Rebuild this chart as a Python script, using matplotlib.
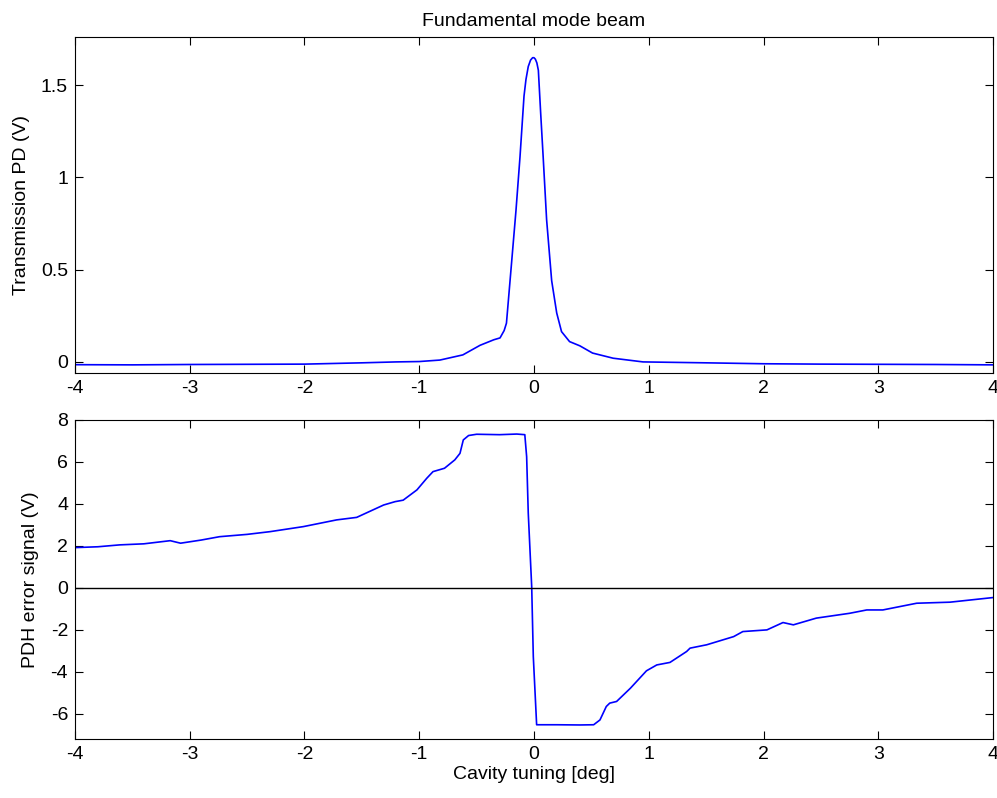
import matplotlib
matplotlib.use("Agg")
import matplotlib.pyplot as plt

plt.rcParams['font.family'] = ['Liberation Sans', 'DejaVu Sans']
plt.rcParams['axes.unicode_minus'] = False

# Transmission photodiode signal (top panel)
trans_x = [-4.0, -3.5, -3.0, -2.5, -2.0, -1.5, -1.2, -1.0, -0.82, -0.62, -0.47,
           -0.35, -0.296, -0.26, -0.24, -0.195, -0.157, -0.122, -0.087, -0.07,
           -0.05, -0.03, -0.012, 0.0, 0.012, 0.025, 0.038, 0.058, 0.08, 0.11,
           0.154, 0.198, 0.24, 0.31, 0.40, 0.51, 0.69, 0.95, 1.5, 2.0, 2.5,
           3.0, 3.5, 4.0]
trans_v = [-0.015, -0.016, -0.014, -0.013, -0.012, -0.005, 0.0, 0.002, 0.01,
           0.038, 0.09, 0.12, 0.13, 0.17, 0.21, 0.54, 0.82, 1.11, 1.44, 1.53,
           1.60, 1.635, 1.648, 1.648, 1.64, 1.62, 1.58, 1.35, 1.11, 0.77, 0.44,
           0.265, 0.164, 0.11, 0.087, 0.048, 0.02, 0.0, -0.005, -0.01, -0.012,
           -0.013, -0.014, -0.016]

# PDH error signal (bottom panel)
pdh_x = [-4.0, -3.8, -3.61, -3.4, -3.17, -3.08, -2.9, -2.74, -2.5, -2.30,
         -2.01, -1.72, -1.545, -1.31, -1.21, -1.14, -1.02, -0.935, -0.88,
         -0.78, -0.69, -0.645, -0.616, -0.57, -0.5, -0.3, -0.15, -0.08,
         -0.064, -0.05, -0.02, -0.006, 0.023, 0.2, 0.4, 0.52, 0.575, 0.63,
         0.66, 0.72, 0.84, 0.98, 1.07, 1.185, 1.33, 1.36, 1.505, 1.74, 1.82,
         2.03, 2.17, 2.26, 2.46, 2.75, 2.90, 3.04, 3.335, 3.625, 4.0]
pdh_v = [1.92, 1.96, 2.05, 2.1, 2.25, 2.13, 2.28, 2.44, 2.55, 2.68, 2.92,
         3.24, 3.36, 3.95, 4.11, 4.18, 4.67, 5.22, 5.54, 5.70, 6.1, 6.41,
         7.05, 7.26, 7.32, 7.3, 7.33, 7.3, 6.25, 3.57, 0.06, -3.27, -6.52,
         -6.52, -6.53, -6.52, -6.29, -5.65, -5.49, -5.41, -4.78, -3.95, -3.67,
         -3.55, -3.03, -2.87, -2.71, -2.32, -2.08, -2.0, -1.65, -1.76, -1.44,
         -1.21, -1.05, -1.05, -0.73, -0.68, -0.46]

xticks = [-4, -3, -2, -1, 0, 1, 2, 3, 4]
top_yticks = [0, 0.5, 1, 1.5]
bot_yticks = [-6, -4, -2, 0, 2, 4, 6, 8]

fig = plt.figure(figsize=(9.97, 7.98), dpi=100)
ax1 = fig.add_axes([0.0752, 0.5326, 0.9208, 0.421])
ax2 = fig.add_axes([0.0752, 0.0739, 0.9208, 0.3998])

FS = 14


def style(ax):
    ax.tick_params(direction='in', length=6, width=0.8, top=True, right=True,
                   labelsize=FS, pad=5)
    for s in ax.spines.values():
        s.set_linewidth(0.8)
    ax.set_xlim(-4, 4)
    ax.set_xticks(xticks)
    ax.set_xticklabels([str(t) for t in xticks])


ax1.plot(trans_x, trans_v, color='#0000ff', lw=1.2)
style(ax1)
ax1.set_ylim(-0.06, 1.76)
ax1.set_yticks(top_yticks)
ax1.set_yticklabels(['0', '0.5', '1', '1.5'])
ax1.set_ylabel('Transmission PD (V)', fontsize=FS, labelpad=8)
ax1.set_title('Fundamental mode beam', fontsize=FS, pad=8)

ax2.plot(pdh_x, pdh_v, color='#0000ff', lw=1.2)
ax2.axhline(0, color='black', lw=1.0)
style(ax2)
ax2.set_ylim(-7.2, 8)
ax2.set_yticks(bot_yticks)
ax2.set_yticklabels([str(t) for t in bot_yticks])
ax2.set_ylabel('PDH error signal (V)', fontsize=FS, labelpad=8)
ax2.set_xlabel('Cavity tuning [deg]', fontsize=FS, labelpad=2)

fig.savefig('out.png', dpi=100)
